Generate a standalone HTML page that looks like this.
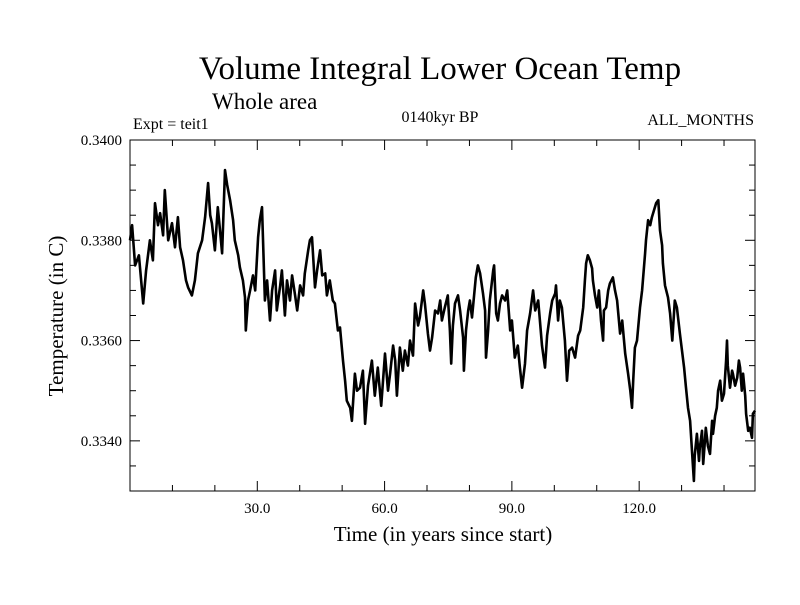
<!DOCTYPE html>
<html><head><meta charset="utf-8"><style>
body{margin:0;background:#fff;width:800px;height:600px;overflow:hidden}
svg text{font-family:"Liberation Serif",serif;fill:#000}
</style></head><body>
<svg id="chart" width="800" height="600" xmlns="http://www.w3.org/2000/svg">
<text x="440" y="79" font-size="33" text-anchor="middle">Volume Integral Lower Ocean Temp</text>
<text x="212" y="109" font-size="23">Whole area</text>
<text x="133" y="129" font-size="16">Expt = teit1</text>
<text x="440" y="122" font-size="16" text-anchor="middle">0140kyr BP</text>
<text x="754" y="125" font-size="16" text-anchor="end">ALL_MONTHS</text>
<text x="443" y="541" font-size="21" text-anchor="middle">Time (in years since start)</text>
<text x="0" y="0" font-size="21" text-anchor="middle" transform="translate(63,316) rotate(-90)">Temperature (in C)</text>
<g id="axes"></g>
<path id="series" fill="none" stroke="#000" stroke-width="2.6" stroke-linejoin="round"/>
<rect x="130" y="140" width="625" height="351" fill="none" stroke="#000" stroke-width="1"/>
</svg>
<script>
const years=[0.0,0.5,1.2,2.1,3.1,3.8,4.7,5.4,5.9,6.6,7.1,7.8,8.2,9.0,9.9,10.6,11.3,11.8,12.5,13.2,13.7,14.6,15.3,16.0,17.0,17.7,18.4,18.9,19.3,20.0,20.7,21.2,21.7,22.4,22.9,23.6,24.3,24.7,25.5,25.9,26.6,27.1,27.3,27.8,28.3,29.0,29.5,30.2,30.6,31.1,31.8,32.3,33.0,33.5,34.2,34.6,35.4,35.8,36.5,37.0,37.7,38.2,38.9,39.4,40.1,40.8,41.2,42.0,42.4,42.9,43.6,44.1,44.8,45.3,46.0,46.4,47.1,47.8,48.3,49.0,49.5,50.2,50.7,51.1,51.9,52.3,53.0,53.5,54.2,54.9,55.4,56.1,57.0,57.7,58.4,59.2,60.1,60.8,61.3,62.0,62.5,62.9,63.6,64.3,64.8,65.5,66.0,66.7,67.2,67.9,68.3,69.1,69.5,70.2,70.7,71.2,71.9,72.6,73.1,73.5,74.2,74.9,75.4,75.7,76.1,76.6,77.3,77.8,78.5,78.7,79.2,79.7,80.1,80.6,81.1,81.5,82.0,82.5,83.2,83.7,83.9,84.4,84.8,85.6,85.8,86.3,86.7,87.2,87.7,88.4,88.9,89.6,90.0,90.7,91.4,91.9,92.4,93.1,93.6,94.3,95.0,95.5,96.2,96.6,97.1,97.8,98.3,99.0,99.5,100.2,100.4,100.9,101.3,101.8,102.5,103.0,103.5,104.2,104.9,105.6,106.1,106.8,107.2,107.5,107.9,108.4,108.9,109.1,109.6,110.1,110.5,111.0,111.5,111.7,112.2,112.7,113.1,113.8,114.3,114.8,115.5,116.0,116.7,117.4,117.9,118.3,118.6,119.0,119.5,120.2,120.7,121.4,121.6,122.1,122.6,123.0,123.5,124.0,124.5,124.9,125.4,125.6,126.1,126.8,127.3,127.8,128.0,128.4,128.9,129.6,130.1,130.6,131.0,131.5,132.0,132.4,132.9,133.1,133.6,134.1,134.3,134.8,135.1,135.5,135.7,136.2,136.7,137.2,137.4,137.9,138.3,138.6,139.1,139.5,140.0,140.5,140.7,140.9,141.4,141.9,142.1,142.6,143.1,143.5,143.8,144.2,144.5,145.0,145.2,145.7,146.1,146.6,146.8,147.3];
const temps=[0.33800,0.33830,0.33750,0.33770,0.33674,0.33740,0.33800,0.33760,0.33874,0.33830,0.33854,0.33810,0.33900,0.33800,0.33834,0.33786,0.33846,0.33786,0.33760,0.33720,0.33706,0.33690,0.33720,0.33774,0.33800,0.33846,0.33914,0.33850,0.33834,0.33780,0.33866,0.33820,0.33774,0.33940,0.33910,0.33880,0.33840,0.33800,0.33770,0.33746,0.33720,0.33686,0.33620,0.33680,0.33700,0.33730,0.33700,0.33806,0.33840,0.33866,0.33680,0.33720,0.33640,0.33700,0.33740,0.33660,0.33710,0.33740,0.33650,0.33720,0.33680,0.33730,0.33690,0.33660,0.33710,0.33690,0.33734,0.33780,0.33800,0.33806,0.33706,0.33740,0.33780,0.33730,0.33734,0.33690,0.33720,0.33680,0.33674,0.33620,0.33626,0.33560,0.33520,0.33480,0.33466,0.33440,0.33534,0.33500,0.33506,0.33540,0.33434,0.33510,0.33560,0.33490,0.33546,0.33470,0.33574,0.33500,0.33534,0.33590,0.33560,0.33490,0.33586,0.33540,0.33580,0.33550,0.33600,0.33570,0.33674,0.33630,0.33646,0.33700,0.33674,0.33614,0.33580,0.33606,0.33660,0.33654,0.33680,0.33640,0.33666,0.33690,0.33620,0.33554,0.33630,0.33674,0.33690,0.33660,0.33606,0.33540,0.33620,0.33660,0.33680,0.33646,0.33690,0.33726,0.33750,0.33734,0.33694,0.33660,0.33566,0.33620,0.33680,0.33740,0.33750,0.33654,0.33640,0.33674,0.33690,0.33680,0.33700,0.33620,0.33640,0.33566,0.33590,0.33546,0.33506,0.33554,0.33620,0.33654,0.33700,0.33660,0.33680,0.33640,0.33590,0.33546,0.33610,0.33654,0.33680,0.33694,0.33710,0.33640,0.33680,0.33666,0.33600,0.33520,0.33580,0.33586,0.33566,0.33610,0.33620,0.33666,0.33720,0.33754,0.33770,0.33760,0.33744,0.33720,0.33690,0.33666,0.33700,0.33640,0.33600,0.33660,0.33666,0.33700,0.33714,0.33726,0.33700,0.33680,0.33614,0.33640,0.33574,0.33534,0.33500,0.33466,0.33520,0.33586,0.33600,0.33666,0.33700,0.33774,0.33800,0.33840,0.33830,0.33846,0.33860,0.33874,0.33880,0.33820,0.33790,0.33754,0.33710,0.33686,0.33654,0.33600,0.33626,0.33680,0.33666,0.33614,0.33580,0.33546,0.33510,0.33466,0.33440,0.33386,0.33320,0.33370,0.33414,0.33360,0.33386,0.33420,0.33354,0.33400,0.33426,0.33390,0.33374,0.33440,0.33414,0.33450,0.33466,0.33500,0.33520,0.33480,0.33494,0.33560,0.33600,0.33550,0.33506,0.33540,0.33534,0.33510,0.33526,0.33560,0.33546,0.33500,0.33534,0.33490,0.33454,0.33420,0.33426,0.33406,0.33454,0.33460];
const xTickValues=[30,60,90,120];
const xTickLabels=["30.0","60.0","90.0","120.0"];
const yTickValues=[0.334,0.336,0.338,0.340];
const yTickLabels=["0.3340","0.3360","0.3380","0.3400"];

const X0=130,X1=755,Y0=491,Y1=140,XMIN=0,XMAX=147.3,YMIN=0.333,YMAX=0.340;
function sx(v){return X0+(v-XMIN)/(XMAX-XMIN)*(X1-X0);}
function sy(v){return Y0-(v-YMIN)/(YMAX-YMIN)*(Y0-Y1);}
const NS="http://www.w3.org/2000/svg";
const g=document.getElementById('axes');
function line(x1,y1,x2,y2,name){const l=document.createElementNS(NS,'line');l.setAttribute('x1',x1);l.setAttribute('y1',y1);l.setAttribute('x2',x2);l.setAttribute('y2',y2);l.setAttribute('stroke','#000');l.setAttribute('stroke-width','1');


g.appendChild(l);}
function txt(x,y,s,anchor,name){const t=document.createElementNS(NS,'text');t.setAttribute('x',x);t.setAttribute('y',y);t.setAttribute('font-size','15');t.setAttribute('text-anchor',anchor);t.textContent=s;


g.appendChild(t);}
for(let v=10;v<XMAX;v+=10){const x=sx(v);const major=(v%30===0);const L=major?10:6;line(x,Y0,x,Y0-L,'x-tick');line(x,Y1,x,Y1+L,'x-tick-top');}
xTickValues.forEach((v,i)=>txt(sx(v),513,xTickLabels[i],'middle','x-tick-label'));
for(let k=1;k<14;k++){const v=YMIN+k*0.0005;const y=sy(v);const major=(k%4===2);const L=major?10:6;line(X0,y,X0+L,y,'y-tick');line(X1,y,X1-L,y,'y-tick-right');}
yTickValues.forEach((v,i)=>txt(122,sy(v)+5,yTickLabels[i],'end','y-tick-label'));
let d='';years.forEach((yr,i)=>{d+=(i?'L':'M')+sx(yr).toFixed(1)+','+sy(temps[i]).toFixed(1);});
document.getElementById('series').setAttribute('d',d);
</script>
</body></html>
